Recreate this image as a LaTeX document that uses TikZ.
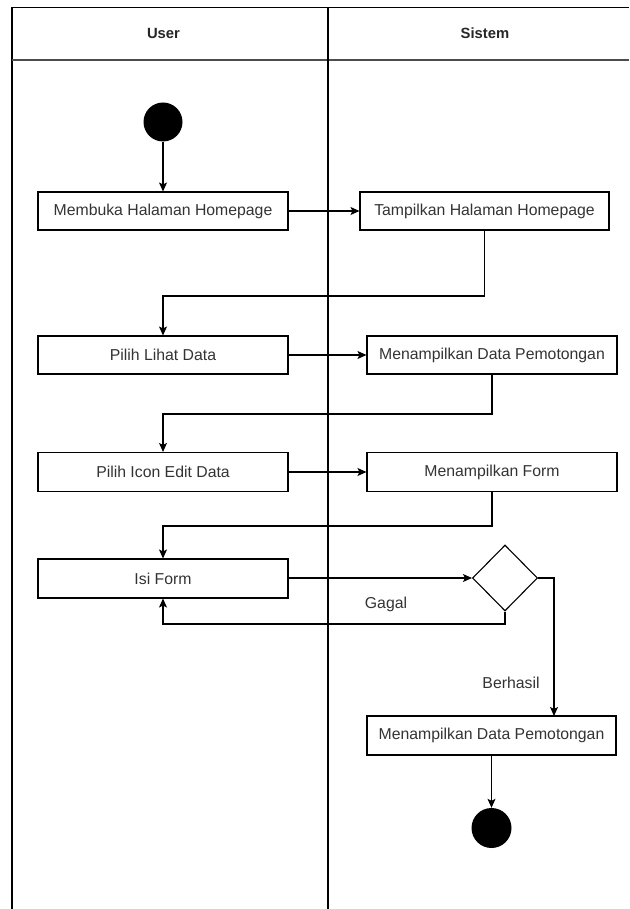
\documentclass[tikz,border=0pt]{standalone}
\usepackage{fontspec}
\setmainfont{Liberation Sans}
\usetikzlibrary{arrows.meta,shapes.geometric}
\begin{document}
\begin{tikzpicture}[x=1pt,y=-1pt,
  lane/.style={line width=1.5pt, draw=black},
  act/.style={draw=black, line width=1.1pt, minimum width=250pt, minimum height=38pt,
    inner sep=0pt, font=\fontsize{15.8}{18}\selectfont, text=black!80},
  decision/.style={diamond, draw=black, line width=1.1pt, minimum width=65pt,
    minimum height=66pt, inner sep=0pt},
  dot/.style={circle, fill=black, inner sep=0pt},
  flow/.style={line width=1.1pt, draw=black, -{Stealth[length=9pt,width=8pt,inset=2pt]}},
  lbl/.style={font=\fontsize{15.8}{18}\selectfont, text=black!80},
  head/.style={font=\fontsize{14.8}{18}\selectfont\bfseries, text=black!85}
]
\useasboundingbox (0,0) rectangle (629,909);

% swimlane frame
\draw[lane] (12,909) -- (12,7.5) -- (629,7.5);
\draw[lane, draw=black!70] (12,60) -- (629,60);
\draw[lane] (328,7.5) -- (328,909);
\node[head] (hUser) at (163.5,33) {User};
\node[head] (hSistem) at (485,33) {Sistem};

% activities
\node[dot, minimum size=39pt] (start) at (163,122) {};
\node[act] (b1) at (163,211) {Membuka Halaman Homepage};
\node[act, minimum width=249pt] (b2) at (484.5,211) {Tampilkan Halaman Homepage};
\node[act] (b3) at (163,355) {Pilih Lihat Data};
\node[act] (b4) at (492,355) {Menampilkan Data Pemotongan};
\node[act, minimum height=39pt] (b5) at (163,472) {Pilih Icon Edit Data};
\node[act, minimum height=39pt] (b6) at (492,472) {Menampilkan Form};
\node[act, minimum height=39pt] (b7) at (163,578.5) {Isi Form};
\node[decision] (d) at (505,578) {};
\node[act, minimum width=249pt, minimum height=39pt] (b8) at (491.5,735.5) {Menampilkan Data Pemotongan};
\node[dot, minimum size=40pt] (end) at (491.5,828) {};

% bend points
\coordinate (k1) at (0,296);
\coordinate (k2) at (0,414);
\coordinate (k3) at (0,526);
\coordinate (k4) at (0,624);
\coordinate (bx) at (554,716);

% connectors
\draw[flow] (start) -- (b1);
\draw[flow] (b1) -- (b2);
\draw[flow] (b2.south) -- (b2.south |- k1) -| (b3.north);
\draw[flow] (b3) -- (b4);
\draw[flow] (b4.south) -- (b4.south |- k2) -| (b5.north);
\draw[flow] (b5.east) -- (b6.west);
\draw[flow] (b6.south) -- (b6.south |- k3) -| (b7.north);
\draw[flow] (b7.east |- d.west) -- (d.west);
\draw[flow] (d.south) -- (d.south |- k4) -| (b7.south);
\draw[flow] (d.east) -| (bx);
\draw[flow] (b8) -- (end);

% guard labels
\node[lbl] (gagal) at (386,604) {Gagal};
\node[lbl] (berhasil) at (511,683) {Berhasil};
\end{tikzpicture}
\end{document}
